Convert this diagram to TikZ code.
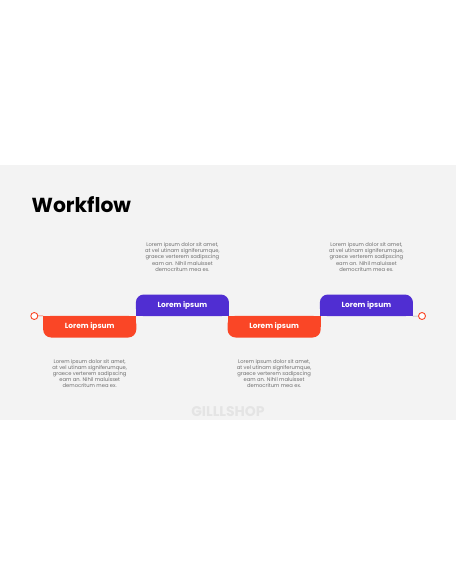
\documentclass[tikz,border=0pt]{standalone}
\usepackage{fontspec}
\setmainfont{Poppins}
\usetikzlibrary{backgrounds}
\definecolor{oc}{RGB}{250,70,38}
\definecolor{bc}{RGB}{80,46,210}
\definecolor{bgc}{RGB}{243,243,243}
\definecolor{txc}{RGB}{110,110,110}
\definecolor{wmc}{RGB}{228,228,228}
\tikzset{
  stepbox/.style={minimum width=92.7pt, minimum height=21.3pt, inner sep=0pt, text=white, font=\fontsize{7.4}{8}\selectfont\bfseries},
  desc/.style={align=center, text=txc, inner sep=0pt, font=\fontsize{5.2}{6.1}\selectfont},
  dot/.style={circle, draw=oc, line width=0.9pt, fill=white, minimum size=7pt, inner sep=0pt},
}
\begin{document}
\begin{tikzpicture}[x=1pt,y=-1pt]
\useasboundingbox (0,0) rectangle (456,586);
\node[anchor=south west, inner sep=0pt, font=\fontsize{20.3}{22}\selectfont\bfseries] (title) at (31.5,212.8) {Workflow};
\node[font=\fontsize{14}{15}\selectfont\bfseries, text=wmc, inner sep=0pt] (wm) at (228,412) {GILLLSHOP};

\node[stepbox] (o1) at (89.7,326.65) {Lorem ipsum};
\node[stepbox] (b1) at (182.4,305.35) {Lorem ipsum};
\node[stepbox] (o2) at (274.1,326.65) {Lorem ipsum};
\node[stepbox] (b2) at (366.4,305.35) {Lorem ipsum};
\begin{scope}[on background layer]
\fill[white] (0,0) rectangle (456,586);
\fill[bgc] (0,165) rectangle (456,420);
\foreach \n in {o1,o2}{
  \fill[oc, rounded corners=8pt] (\n.north west) rectangle (\n.south east);
  \fill[oc] (\n.north west) rectangle (\n.east);
}
\foreach \n in {b1,b2}{
  \fill[bc, rounded corners=8pt] (\n.north west) rectangle (\n.south east);
  \fill[bc] (\n.west) rectangle (\n.south east);
}
\end{scope}
\node[dot] (c1) at (34.3,316) {};
\node[dot] (c2) at (422,316) {};
\draw[oc, line width=0.6pt] (c1) -- (o1.north west);
\draw[black!35, line width=0.6pt] (b2.south east) -- (c2);

\node[desc] (t1) at (182.4,257) {Lorem ipsum dolor sit amet,\\at vel utinam signiferumque,\\graece verterem sadipscing\\eam an. Nihil maluisset\\democritum mea ex.};
\node[desc] (t2) at (366.4,257) {Lorem ipsum dolor sit amet,\\at vel utinam signiferumque,\\graece verterem sadipscing\\eam an. Nihil maluisset\\democritum mea ex.};
\node[desc] (t3) at (89.7,373.5) {Lorem ipsum dolor sit amet,\\at vel utinam signiferumque,\\graece verterem sadipscing\\eam an. Nihil maluisset\\democritum mea ex.};
\node[desc] (t4) at (274.1,373.5) {Lorem ipsum dolor sit amet,\\at vel utinam signiferumque,\\graece verterem sadipscing\\eam an. Nihil maluisset\\democritum mea ex.};
\end{tikzpicture}
\end{document}
